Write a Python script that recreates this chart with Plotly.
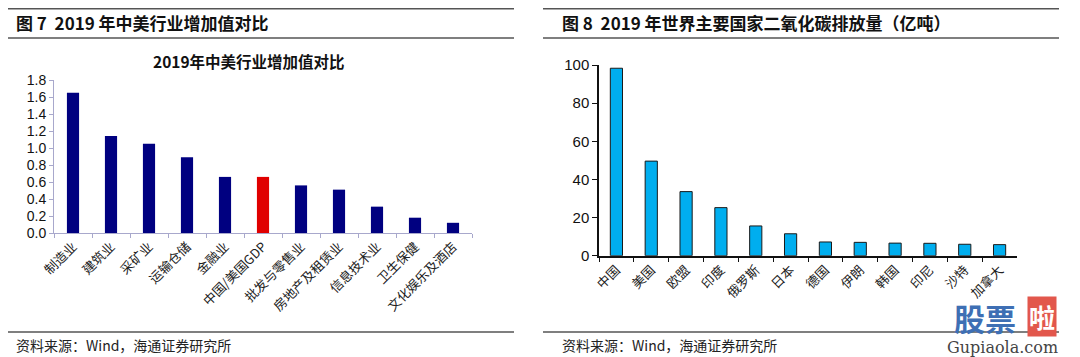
import plotly.graph_objects as go

# Figure 7 data
industries = ["制造业", "建筑业", "采矿业", "运输仓储", "金融业", "中国/美国GDP",
              "批发与零售业", "房地产及租赁业", "信息技术业", "卫生保健", "文化娱乐及酒店"]
ratios = [1.65, 1.14, 1.05, 0.89, 0.66, 0.66, 0.56, 0.51, 0.31, 0.18, 0.12]
ratio_colors = ["#000080"] * 5 + ["#E00000"] + ["#000080"] * 5
ratio_ticks = [0.0, 0.2, 0.4, 0.6, 0.8, 1.0, 1.2, 1.4, 1.6, 1.8]

# Figure 8 data
countries = ["中国", "美国", "欧盟", "印度", "俄罗斯", "日本", "德国", "伊朗",
             "韩国", "印尼", "沙特", "加拿大"]
co2 = [98.3, 49.6, 33.6, 25.2, 15.6, 11.5, 7.2, 7.0, 6.6, 6.5, 6.0, 5.8]
co2_ticks = [0, 20, 40, 60, 80, 100]

# page body has an 8px margin: work in window pixels and shift
OFF = 8
W, H = 1080 - OFF, 357 - OFF
def px(p):
    return (p - OFF) / W
def py(p):
    return 1 - (p - OFF) / H

fig = go.Figure()
fig.add_trace(go.Bar(x=industries, y=ratios, marker=dict(color=ratio_colors, line=dict(width=0)),
                     width=0.32, xaxis="x", yaxis="y", showlegend=False))
fig.add_trace(go.Bar(x=countries, y=co2, marker=dict(color="#00AEEF", line=dict(color="#1a1a1a", width=1)),
                     width=0.35, xaxis="x2", yaxis="y2", showlegend=False))

cjk = "Noto Sans CJK SC, Liberation Sans, Arial, sans-serif"
num = "Liberation Sans, Arial, sans-serif"

fig.update_layout(
    width=W, height=H,
    margin=dict(l=0, r=0, t=0, b=0, autoexpand=False),
    paper_bgcolor="white", plot_bgcolor="white",
    font=dict(family=cjk, color="#000000"),
    xaxis=dict(domain=[px(54), px(472)], anchor="y", type="category", automargin=False,
               showline=True, linecolor="#A8A8CC", linewidth=1,
               ticks="outside", ticklen=4, tickcolor="#A8A8CC", tickson="boundaries",
               tickangle=-45, tickfont=dict(size=13, family=cjk, color="#222"),
               showgrid=False),
    yaxis=dict(domain=[py(233), py(80)], anchor="x", range=[0, 1.8], automargin=False,
               tickvals=ratio_ticks, ticktext=[f"{v:.1f}" for v in ratio_ticks],
               showline=True, linecolor="#A8A8CC", linewidth=1,
               ticks="outside", ticklen=4, tickcolor="#A8A8CC",
               tickfont=dict(size=14, family=num, color="#111"),
               showgrid=False, zeroline=False),
    xaxis2=dict(domain=[px(599), px(1017)], anchor="y2", type="category", automargin=False,
                showline=True, linecolor="#111", linewidth=1.5,
                ticks="outside", ticklen=5, tickcolor="#111", tickson="boundaries",
                tickangle=-45, tickfont=dict(size=13, family=cjk, color="#222"),
                showgrid=False),
    yaxis2=dict(domain=[py(255.7), py(65)], anchor="x2", range=[0, 100], automargin=False,
                tickvals=co2_ticks, ticktext=[str(v) for v in co2_ticks],
                showline=True, linecolor="#111", linewidth=1.5,
                ticks="outside", ticklen=5, tickcolor="#111",
                tickfont=dict(size=15, family=num, color="#111"),
                showgrid=False, zeroline=False),
)

shapes = []
for x0, x1 in [(8, 514), (543, 1059)]:
    for yy, w in [(8.5, 2), (38, 1.5), (332, 1.5)]:
        shapes.append(dict(type="line", xref="paper", yref="paper",
                           x0=px(x0), x1=px(x1), y0=py(yy), y1=py(yy),
                           line=dict(color="#555555", width=w)))
fig.update_layout(shapes=shapes)

def A(**kw):
    kw.setdefault("xref", "paper")
    kw.setdefault("yref", "paper")
    kw.setdefault("showarrow", False)
    return kw

ann = []
ann.append(A(text="<b>图 7  2019 年中美行业增加值对比</b>", x=px(14), y=py(22),
             xanchor="left", yanchor="middle",
             font=dict(size=17, family=cjk, color="#111")))
ann.append(A(text="<b>图 8  2019 年世界主要国家二氧化碳排放量（亿吨）</b>", x=px(560), y=py(22),
             xanchor="left", yanchor="middle",
             font=dict(size=17, family=cjk, color="#111")))
ann.append(A(text="<b>2019年中美行业增加值对比</b>", x=px(249), y=py(61),
             xanchor="center", yanchor="middle",
             font=dict(size=15.5, family=cjk, color="#111")))
for xx in [14, 560]:
    ann.append(A(text="资料来源：Wind，海通证券研究所", x=px(xx), y=py(345),
                 xanchor="left", yanchor="middle",
                 font=dict(size=14, family=cjk, color="#222")))
# watermark
ann.append(A(text="<b>股票</b>", x=px(985), y=py(317), xanchor="center", yanchor="middle",
             font=dict(size=31, family=cjk, color="#3E6FB4")))
ann.append(A(text="<b>啦</b>", x=px(1042), y=py(316), xanchor="center", yanchor="middle",
             bgcolor="#E2574C", borderpad=1,
             font=dict(size=26, family=cjk, color="white")))
ann.append(A(text="Gupiaola.com", x=px(1003), y=py(347), xanchor="center", yanchor="middle",
             font=dict(size=16, family="DejaVu Serif, serif", color="#444")))
fig.update_layout(annotations=ann)

fig.write_html("out.html")
